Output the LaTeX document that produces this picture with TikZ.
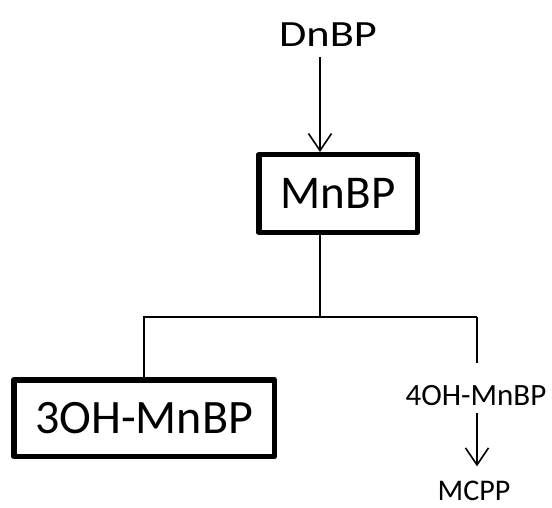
\documentclass[tikz,border=0pt]{standalone}
\usepackage{fontspec}
\setmainfont{Carlito}
\usetikzlibrary{arrows.meta}
\tikzset{
  thickbox/.style={draw, line width=5.5pt, line join=round, inner sep=0pt},
  lbl/.style={inner sep=0pt, anchor=base},
  conn/.style={line width=1.6pt},
  arr/.style={conn, -{Straight Barb[length=17pt,width=23pt,line width=1.6pt]}},
}
\begin{document}
\begin{tikzpicture}[x=1pt,y=-1pt]
\useasboundingbox (0,0) rectangle (552,508);
% nodes
\node[lbl] (dnbp) at (328,47) {\fontsize{37}{40}\selectfont\scalebox{1.2}[1]{DnBP}};
\node[thickbox, minimum width=158.5pt, minimum height=77.5pt] (mnbp) at (338,193.5) {\fontsize{47}{50}\selectfont MnBP};
\node[thickbox, minimum width=260.5pt, minimum height=76.5pt] (oh3) at (144,418) {\fontsize{48}{52}\selectfont 3OH-MnBP};
\node[lbl] (oh4) at (476,405) {\fontsize{31}{34}\selectfont 4OH-MnBP};
\node[lbl] (mcpp) at (474,500) {\fontsize{30}{33}\selectfont MCPP};
% coordinates
\coordinate (a1) at (320,57);
\coordinate (j) at (320,317);
\coordinate (r) at (477,317);
% connectors
\draw[arr] (a1) -- (mnbp.north -| a1);
\draw[conn] (mnbp.south -| j) -- (j);
\draw[conn] (oh3.north) |- (r);
\draw[conn] (r) -- ([yshift=22pt]oh4.north -| r);
\draw[arr, shorten <=8pt, shorten >=14pt] (oh4.south -| r) -- (mcpp.north -| r);
\end{tikzpicture}
\end{document}
